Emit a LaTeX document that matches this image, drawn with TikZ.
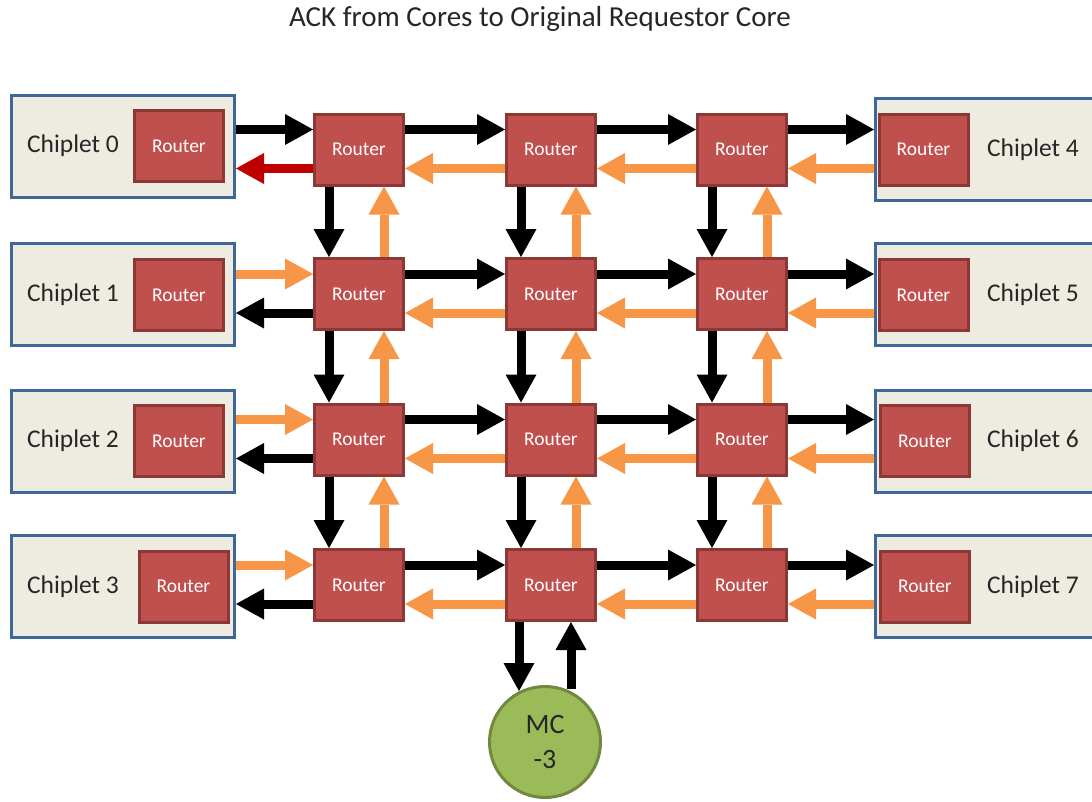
\documentclass[tikz,border=0pt]{standalone}
\usepackage{fontspec}
\setmainfont{Carlito}
\usetikzlibrary{arrows.meta}
\definecolor{routerfill}{HTML}{C0504D}
\definecolor{routerline}{HTML}{8C3836}
\definecolor{chipfill}{HTML}{EEECE1}
\definecolor{chipline}{HTML}{3F6797}
\definecolor{mcfill}{HTML}{9BBB59}
\definecolor{mcline}{HTML}{71893F}
\definecolor{ackorange}{HTML}{F79646}
\definecolor{ackred}{HTML}{C00000}
\begin{document}
\begin{tikzpicture}[x=1pt,y=-1pt,
  router/.style={draw=routerline,fill=routerfill,line width=3pt,
    minimum width=89pt,minimum height=71pt,inner sep=0pt,
    text=white,font=\fontsize{19.5}{23}\selectfont},
  chipbox/.style={draw=chipline,fill=chipfill,line width=3pt,
    minimum width=223pt,minimum height=102pt,inner sep=0pt},
  chiplabel/.style={font=\fontsize{25.5}{30}\selectfont,text=black!85,inner sep=0pt},
  mc/.style={circle,draw=mcline,fill=mcfill,line width=3pt,minimum size=111pt,
    inner sep=0pt,align=center,font=\fontsize{28}{35}\selectfont,text=black!85},
  link/.style={line width=9pt,-{Triangle[width=31pt,length=28pt,line width=0pt]}},
  fwd/.style={link,draw=black},
  ack/.style={link,draw=ackorange},
  ackfirst/.style={link,draw=ackred}]
\clip (0,0) rectangle (1092,801);
\fill[white] (0,0) rectangle (1092,801);

% title
\node[font=\fontsize{29}{34}\selectfont,text=black!85] (title) at (540,19)
  {ACK from Cores to Original Requestor Core};

% chiplets on the left
\node[chipbox] (C0) at (123,146) {};
\node[chipbox] (C1) at (123,294.5) {};
\node[chipbox] (C2) at (123,441) {};
\node[chipbox] (C3) at (123,586.5) {};
\node[router] (L0) at (179,146) {Router};
\node[router] (L1) at (179,295) {Router};
\node[router] (L2) at (179,441) {Router};
\node[router] (L3) at (183.5,586.5) {Router};
\node[chiplabel] (t0) at (73,146) {Chiplet 0};
\node[chiplabel] (t1) at (73,295) {Chiplet 1};
\node[chiplabel] (t2) at (73,441) {Chiplet 2};
\node[chiplabel] (t3) at (73,586.5) {Chiplet 3};

% chiplets on the right
\node[chipbox] (C4) at (987,149) {};
\node[chipbox] (C5) at (987,294.5) {};
\node[chipbox] (C6) at (987,441) {};
\node[chipbox] (C7) at (987,586.5) {};
\node[router] (Q0) at (923.5,149.5) {Router};
\node[router] (Q1) at (923.5,295) {Router};
\node[router] (Q2) at (925,441) {Router};
\node[router] (Q3) at (925,586.5) {Router};
\node[chiplabel] (t4) at (1033,149.5) {Chiplet 4};
\node[chiplabel] (t5) at (1033,295) {Chiplet 5};
\node[chiplabel] (t6) at (1033,441) {Chiplet 6};
\node[chiplabel] (t7) at (1033,586.5) {Chiplet 7};

% 4 x 3 mesh of routers
\foreach \r/\y in {0/149.5,1/294,2/439.5,3/585}
  \foreach \c/\x in {0/359,1/551,2/742}
    \node[router] (R\r\c) at (\x,\y) {Router};

% memory controller
\node[mc] (MC) at (545,742) {MC\\-3};

% horizontal links inside the mesh
\foreach \r in {0,...,3}
  \foreach \c/\n in {0/1,1/2}{
    \draw[fwd] ([yshift=20pt]R\r\c.east) -- ([yshift=20pt]R\r\n.west);
    \draw[ack] ([yshift=-19pt]R\r\n.west) -- ([yshift=-19pt]R\r\c.east);
  }

% vertical links inside the mesh
\foreach \r/\n in {0/1,1/2,2/3}
  \foreach \c in {0,1,2}{
    \draw[fwd] ([xshift=-30pt]R\r\c.south) -- ([xshift=-30pt]R\n\c.north);
    \draw[ack] ([xshift=25pt]R\n\c.north) -- ([xshift=25pt]R\r\c.south);
  }

% links to the left chiplets
\draw[fwd] ([yshift=20pt]R00.west -| C0.east) -- ([yshift=20pt]R00.west);
\draw[ackfirst] ([yshift=-19pt]R00.west) -- ([yshift=-19pt]R00.west -| C0.east);
\foreach \r in {1,2,3}{
  \draw[ack] ([yshift=20pt]R\r0.west -| C\r.east) -- ([yshift=20pt]R\r0.west);
  \draw[fwd] ([yshift=-19pt]R\r0.west) -- ([yshift=-19pt]R\r0.west -| C\r.east);
}

% links to the right chiplets
\foreach \r/\k in {0/4,1/5,2/6,3/7}{
  \draw[fwd] ([yshift=20pt]R\r2.east) -- ([yshift=20pt]R\r2.east -| C\k.west);
  \draw[ack] ([yshift=-19pt]R\r2.east -| C\k.west) -- ([yshift=-19pt]R\r2.east);
}

% links to the memory controller
\draw[fwd] ([xshift=-32pt]R31.south) -- ([xshift=-32pt,yshift=-6pt]R31.south |- MC.north);
\draw[fwd] ([xshift=20pt,yshift=-4pt]R31.south |- MC.north) -- ([xshift=20pt]R31.south);
\end{tikzpicture}
\end{document}
